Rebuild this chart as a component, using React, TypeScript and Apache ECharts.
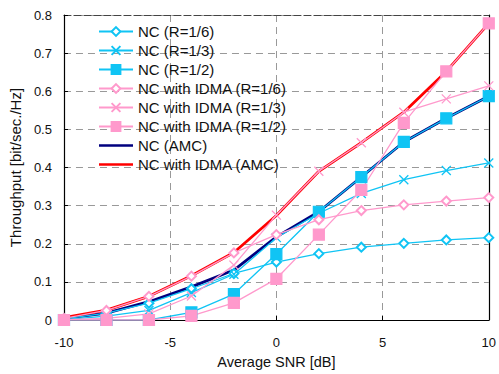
import React, { useEffect, useRef } from "react";
import * as echarts from "echarts";

const snr = [-10, -8, -6, -4, -2, 0, 2, 4, 6, 8, 10];
const ncR16 = [0.003, 0.018, 0.044, 0.082, 0.122, 0.152, 0.174, 0.191, 0.201, 0.21, 0.216];
const ncR13 = [0.001, 0.01, 0.025, 0.072, 0.12, 0.216, 0.28, 0.332, 0.368, 0.392, 0.412];
const ncR12 = [0, 0, 0, 0.02, 0.068, 0.173, 0.284, 0.375, 0.467, 0.529, 0.587];
const idmaR16 = [0.004, 0.025, 0.062, 0.115, 0.176, 0.224, 0.263, 0.287, 0.302, 0.312, 0.321];
const idmaR13 = [0.001, 0.004, 0.016, 0.063, 0.144, 0.275, 0.39, 0.465, 0.545, 0.58, 0.614];
const idmaR12 = [0, 0, 0, 0.011, 0.045, 0.108, 0.224, 0.341, 0.517, 0.652, 0.778];
const ncAMC = [0.004, 0.018, 0.048, 0.087, 0.131, 0.218, 0.284, 0.375, 0.467, 0.529, 0.587];
const idmaAMC = [0.006, 0.026, 0.062, 0.116, 0.177, 0.274, 0.39, 0.465, 0.545, 0.652, 0.778];

const CYAN = "#10C4F4";
const PINK = "#FF99CC";
const NAVY = "#00007F";
const RED = "#FF0000";
const XSYM = "path://M0,0L10,10M10,0L0,10";
const LINE_ICON =
  "path://M0,0L0.01,0L0,0.01Z M0,4.2L34,4.2L34,6.8L0,6.8Z M34,11L33.99,11L34,10.99Z";

const pair = (ys: number[]) => snr.map((x, i) => [x, ys[i]]);

export default function App() {
  const ref = useRef<HTMLDivElement>(null);
  useEffect(() => {
    if (!ref.current) return;
    const chart = echarts.init(ref.current, undefined, { renderer: "svg" });
    const font = "Liberation Sans, Arial, sans-serif";
    const thin = (name: string, data: number[], color: string, symbol: string, size: number, xMark = false) => ({
      name,
      type: "line",
      data: pair(data),
      symbol,
      symbolSize: size,
      showAllSymbol: true,
      lineStyle: { color, width: 1.3 },
      itemStyle: xMark
        ? { color: "rgba(0,0,0,0)", borderColor: color, borderWidth: 1.3 }
        : { color, borderColor: color, borderWidth: 1.2 },
      z: 2,
    });
    chart.setOption({
      animation: false,
      textStyle: { fontFamily: font },
      grid: { left: 63, right: 8, top: 15, bottom: 51 },
      legend: {
        left: 98,
        top: 24,
        padding: 0,
        orient: "vertical",
        itemWidth: 34,
        itemHeight: 11,
        itemGap: 4,
        textStyle: { fontSize: 15, color: "#111", fontFamily: font },
        data: [
          "NC (R=1/6)",
          "NC (R=1/3)",
          "NC (R=1/2)",
          "NC with IDMA (R=1/6)",
          "NC with IDMA (R=1/3)",
          "NC with IDMA (R=1/2)",
          { name: "NC (AMC)", icon: LINE_ICON },
          { name: "NC with IDMA (AMC)", icon: LINE_ICON },
        ],
      },
      xAxis: [
        {
          type: "value",
          min: -10,
          max: 10,
          interval: 5,
          name: "Average SNR [dB]",
          nameLocation: "middle",
          nameGap: 34,
          nameTextStyle: { fontSize: 14.5, color: "#111" },
          axisLine: { onZero: false, lineStyle: { color: "#000", width: 1.2 } },
          axisTick: { inside: true, length: 4, lineStyle: { color: "#000" } },
          axisLabel: { fontSize: 13, color: "#111", margin: 16 },
          splitLine: { show: true, lineStyle: { color: "#999", type: [7, 5], width: 1 } },
        },
        {
          type: "value",
          position: "top",
          min: -10,
          max: 10,
          interval: 5,
          axisLine: { show: true, onZero: false, lineStyle: { color: "#444", type: [7, 3], width: 1.2 } },
          axisTick: { show: false },
          axisLabel: { show: false },
          splitLine: { show: false },
        },
      ],
      yAxis: [
        {
          type: "value",
          min: 0,
          max: 0.8,
          interval: 0.1,
          name: "Throughput [bit/sec./Hz]",
          nameLocation: "middle",
          nameGap: 40,
          nameTextStyle: { fontSize: 15, color: "#111" },
          axisLine: { show: true, onZero: false, lineStyle: { color: "#000", width: 1.2 } },
          axisTick: { show: true, inside: true, length: 4, lineStyle: { color: "#000" } },
          axisLabel: {
            fontSize: 13,
            color: "#111",
            margin: 12,
            formatter: (v: number) => (v === 0 ? "0" : String(Math.round(v * 10) / 10)),
          },
          splitLine: { show: true, lineStyle: { color: "#999", type: [7, 5], width: 1 } },
        },
        {
          type: "value",
          position: "right",
          min: 0,
          max: 0.8,
          interval: 0.1,
          axisLine: { show: true, onZero: false, lineStyle: { color: "#000", width: 1.2 } },
          axisTick: { show: false },
          axisLabel: { show: false },
          splitLine: { show: false },
        },
      ],
      series: [
        thin("NC (R=1/6)", ncR16, CYAN, "emptyDiamond", 9),
        thin("NC (R=1/3)", ncR13, CYAN, XSYM, 9, true),
        thin("NC (R=1/2)", ncR12, CYAN, "rect", 11),
        thin("NC with IDMA (R=1/6)", idmaR16, PINK, "emptyDiamond", 9),
        thin("NC with IDMA (R=1/3)", idmaR13, PINK, XSYM, 9, true),
        thin("NC with IDMA (R=1/2)", idmaR12, PINK, "rect", 11),
        {
          name: "NC (AMC)",
          type: "line",
          data: pair(ncAMC),
          symbol: "none",
          lineStyle: { color: NAVY, width: 2.8 },
          itemStyle: { color: NAVY },
          z: 1,
        },
        {
          name: "NC with IDMA (AMC)",
          type: "line",
          data: pair(idmaAMC),
          symbol: "none",
          lineStyle: { color: RED, width: 2.8 },
          itemStyle: { color: RED },
          z: 1,
        },
      ],
    });
    return () => chart.dispose();
  }, []);
  return <div ref={ref} style={{ width: 499, height: 374, position: "absolute", left: 0, top: 0 }} />;
}
